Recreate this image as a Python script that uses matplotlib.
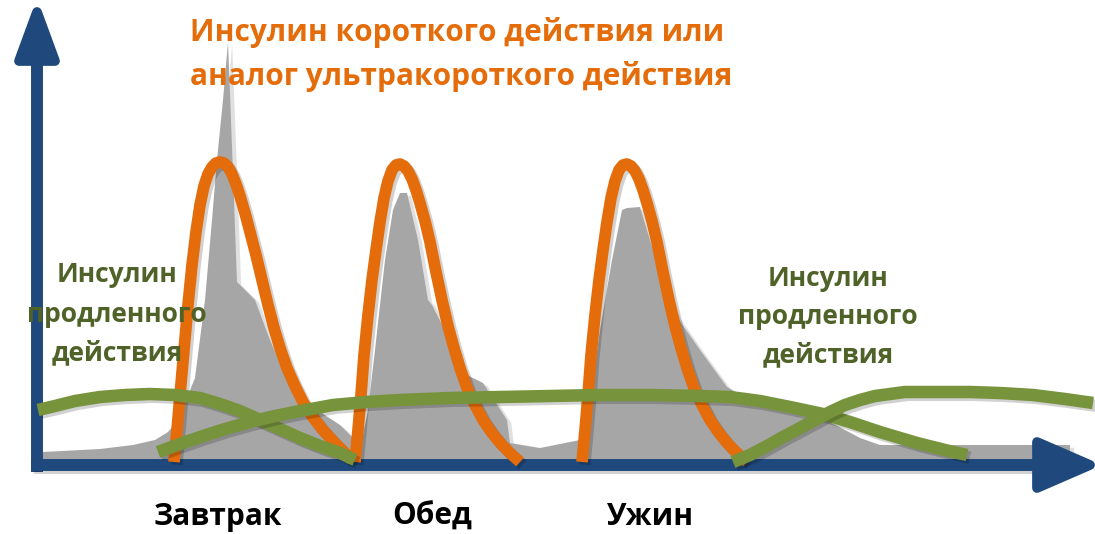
import matplotlib
matplotlib.use("Agg")
import matplotlib.pyplot as plt
import matplotlib.patheffects as pe
from matplotlib.patches import Polygon

plt.rcParams["font.family"] = ["Open Sans", "DejaVu Sans"]

BASE = 465  # row of the time axis, levels are measured upward from it

# background glucose/insulin profile (grey area)
bg_x = [43, 100, 133, 155, 168, 178, 186, 195, 205, 212, 217, 223, 228, 231, 234, 237,
        255, 270, 285, 300, 320, 340, 355, 362, 368, 375, 385, 393, 400, 407, 418, 428,
        432, 450, 463, 483, 507, 510, 540, 580, 590, 600, 612, 622, 627, 640, 650, 665,
        677, 700, 727, 745, 790, 830, 860, 880, 1070, 1070]
bg_y = [452, 449, 445, 440, 432, 420, 400, 378, 300, 220, 160, 100, 42, 120, 200, 282,
        300, 340, 375, 398, 412, 425, 440, 440, 410, 350, 260, 210, 193, 193, 240, 300,
        305, 340, 373, 383, 420, 443, 448, 440, 400, 330, 260, 210, 208, 207, 240, 290,
        317, 350, 387, 397, 412, 422, 438, 445, 445, 458]

# short-acting insulin, one peak per meal
bolus_x = [
    [174, 177, 180, 184, 188, 192, 196, 200, 204, 208, 212, 216, 220, 224, 228, 232, 236,
     240, 245, 250, 256, 262, 268, 274, 280, 287, 295, 303, 312, 322, 333, 344, 352],
    [355, 358, 361, 364, 368, 372, 376, 380, 384, 388, 392, 396, 400, 404, 408, 412, 416,
     420, 425, 430, 436, 442, 448, 454, 460, 467, 475, 483, 492, 501, 511, 520],
    [582, 585, 588, 591, 595, 599, 603, 607, 611, 615, 619, 623, 627, 631, 635, 639, 643,
     647, 652, 657, 663, 669, 675, 681, 687, 694, 702, 710, 719, 728, 738, 747],
]
bolus_y = [
    [462, 430, 395, 350, 305, 265, 232, 205, 186, 174, 167, 163, 162, 163, 167, 174, 184,
     196, 213, 232, 255, 280, 305, 328, 348, 368, 386, 402, 416, 429, 441, 452, 460],
    [462, 430, 395, 355, 315, 280, 250, 222, 198, 181, 170, 165, 164, 166, 171, 179, 190,
     203, 221, 242, 272, 300, 326, 348, 368, 388, 405, 420, 433, 444, 454, 462],
    [462, 430, 395, 355, 315, 280, 250, 222, 198, 181, 170, 165, 164, 166, 171, 179, 190,
     203, 221, 242, 272, 300, 326, 348, 368, 388, 405, 420, 433, 444, 454, 462],
]

# long-acting (basal) insulin injections
basal_x = [
    [38, 55, 75, 100, 125, 150, 175, 200, 220, 240, 260, 280, 300, 320, 340, 355],
    [158, 180, 200, 225, 250, 275, 300, 333, 366, 400, 450, 500, 550, 600, 650, 700, 730,
     760, 790, 823, 850, 880, 917, 945, 967],
    [733, 750, 767, 783, 800, 815, 830, 845, 860, 875, 890, 905, 920, 945, 970, 1000,
     1033, 1065, 1093],
]
basal_y = [
    [410, 406, 401, 397, 395, 394, 395, 398, 404, 411, 420, 429, 438, 446, 453, 460],
    [452, 444, 437, 429, 422, 416, 411, 405, 402, 400, 398, 397, 396, 395, 395, 396, 397,
     401, 407, 414, 422, 432, 443, 450, 455],
    [462, 455, 446, 437, 428, 420, 412, 405, 400, 396, 394, 392, 392, 392, 392, 393,
     395, 399, 403],
]

meals = ["Завтрак", "Обед", "Ужин"]
meal_x = [218, 432, 651]

BLUE = "#1F497D"
ORANGE = "#E46C0A"
GREEN = "#77933C"
GREEN_TXT = "#4F6228"
GREY = "#A6A6A6"


def lvl(vals):
    return [BASE - v for v in vals]


fig = plt.figure(figsize=(10.95, 5.34), dpi=100)
ax = fig.add_axes([0, 0, 1, 1])
ax.set_xlim(0, 1095)
ax.set_ylim(BASE - 534, BASE)
ax.axis("off")

shadow = [pe.SimpleLineShadow(offset=(2, -2), shadow_color="k", alpha=0.18), pe.Normal()]

ax.fill_between(bg_x, 0, lvl(bg_y), color=GREY, lw=0, zorder=1,
                path_effects=[pe.SimplePatchShadow(offset=(3, -2), alpha=0.15), pe.Normal()])

# axes with arrow heads
ax.plot([37, 37], [-7, lvl([58])[0]], color=BLUE, lw=8.6, solid_capstyle="butt", zorder=2)
ax.plot([31, 1045], [0, 0], color=BLUE, lw=8.6, solid_capstyle="butt", zorder=2,
        path_effects=shadow)
ax.add_patch(Polygon([[37, BASE - 12], [19, BASE - 61], [55, BASE - 61]], closed=True,
                     fc=BLUE, ec=BLUE, lw=7, joinstyle="round", zorder=2))
ax.add_patch(Polygon([[1090, 0], [1037, 23], [1037, -23]], closed=True,
                     fc=BLUE, ec=BLUE, lw=7, joinstyle="round", zorder=2))

for xs, ys in zip(bolus_x, bolus_y):
    ax.plot(xs, lvl(ys), color=ORANGE, lw=8.4, solid_capstyle="butt",
            solid_joinstyle="round", zorder=3, path_effects=shadow)

for xs, ys in zip(basal_x, basal_y):
    ax.plot(xs, lvl(ys), color=GREEN, lw=9, solid_capstyle="butt",
            solid_joinstyle="round", zorder=4, path_effects=shadow)

ax.text(190, BASE - 32, "Инсулин короткого действия или", color=ORANGE,
        fontsize=21.5, fontweight="bold", ha="left", va="center", zorder=5)
ax.text(190, BASE - 77, "аналог ультракороткого действия", color=ORANGE,
        fontsize=21.5, fontweight="bold", ha="left", va="center", zorder=5)

basal_label = ["Инсулин", "продленного", "действия"]
for cx, rows in [(117, [275, 315, 353]), (828, [278, 317, 355])]:
    for s, py in zip(basal_label, rows):
        ax.text(cx, BASE - py, s, color=GREEN_TXT, fontsize=19, fontweight="bold",
                ha="center", va="center", zorder=5)

for s, mx in zip(meals, meal_x):
    ax.text(mx, BASE - 517, s, color="black", fontsize=21.5, fontweight="bold",
            ha="center", va="center", zorder=5)

fig.savefig("out.png", dpi=100)
